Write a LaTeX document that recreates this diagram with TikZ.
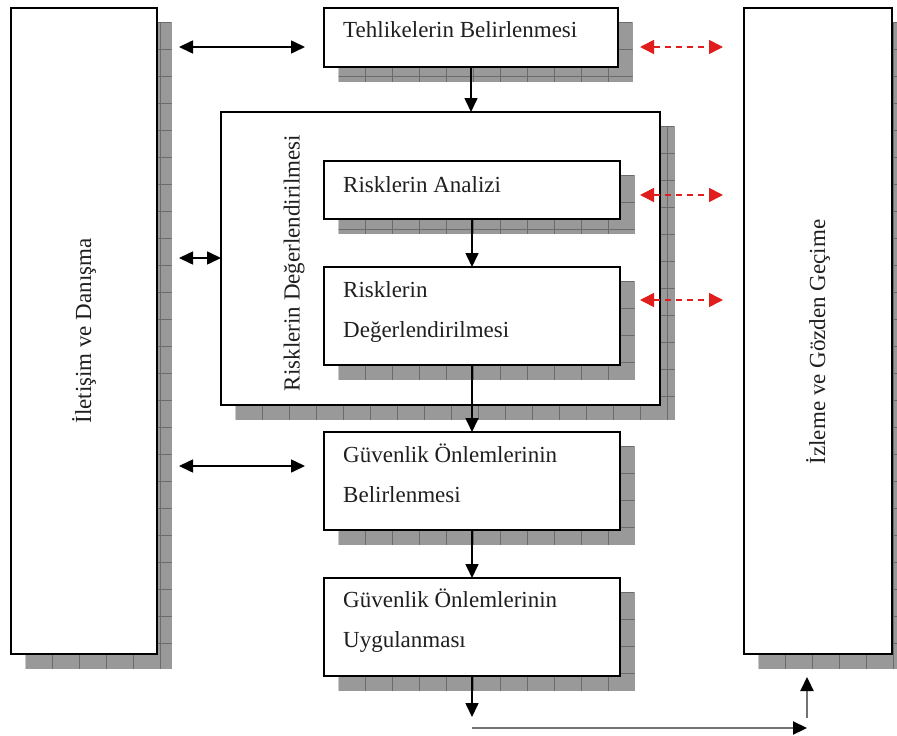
\documentclass[tikz,border=0pt]{standalone}
\usepackage{fontspec}
\setmainfont{Liberation Serif}
\usetikzlibrary{arrows.meta}

\definecolor{shfill}{gray}{0.60}
\definecolor{shline}{gray}{0.42}
\definecolor{dashred}{RGB}{225,30,30}
\definecolor{txt}{gray}{0.12}

\tikzset{
  boxnode/.style={draw=black, line width=1.5pt, fill=white, inner sep=0pt, outer sep=0pt},
  boxtext/.style={font=\fontsize{23}{28}\selectfont, text=txt, inner sep=0pt, anchor=base west},
  sidetext/.style={font=\fontsize{23}{28}\selectfont, text=txt, inner sep=0pt, rotate=90},
  conn/.style={line width=1.6pt, -{Triangle[length=14pt,width=13pt]}},
  dbl/.style={line width=1.6pt, {Triangle[length=14pt,width=13pt]}-{Triangle[length=14pt,width=13pt]}},
  reddbl/.style={line width=1.6pt, dashred, dash pattern=on 6pt off 5pt,
    {Triangle[length=14pt,width=14pt]}-{Triangle[length=14pt,width=14pt]}},
  grayconn/.style={line width=2.2pt, black!55, -{Triangle[length=14pt,width=13pt,color=black]}},
  shline/.style={draw=shline, line width=0.8pt}
}

% Box with a gridded drop shadow: name, x1, y1, x2, y2 (y grows downward)
\newcommand\shbox[5]{%
  \fill[shfill] ({#2+14.5},{#3+14.5}) rectangle ({#4+14.5},{#5+14.5});
  \begin{scope}
    \clip ({#2+14.5},{#3+14.5}) rectangle ({#4+14.5},{#5+14.5});
    \foreach \k in {0,...,33}{
      \draw[shline] ({#2+14.5+27*\k},{#3}) -- ++(0,720);
      \draw[shline] ({#2},{#3+14.5+27*\k}) -- ++(920,0);
    }
  \end{scope}
  \node[boxnode, minimum width={#4-#2}, minimum height={#5-#3}] (#1)
    at ({(#2+#4)/2},{(#3+#5)/2}) {};
}

\begin{document}
\begin{tikzpicture}[x=1pt, y=-1pt]
  \useasboundingbox (0,0) rectangle (897,736);
  \fill[white] (0,0) rectangle (897,736);

  % side columns
  \shbox{left}{11}{8}{157}{654}
  \shbox{right}{744}{8}{892}{654}
  \node[sidetext] (lefttext) at (84,331) {İletişim ve Danışma};
  \node[sidetext] (righttext) at (818,342) {İzleme ve Gözden Geçime};

  % process steps
  \shbox{tb}{324}{8}{618}{67}
  \node[boxtext] (tbtext) at (343,37) {Tehlikelerin Belirlenmesi};

  \shbox{rd}{221}{112}{660}{405}
  \node[sidetext] (rdtext) at (294,263) {Risklerin Değerlendirilmesi};

  \shbox{ra}{324}{161}{620}{219}
  \node[boxtext] (ratext) at (343,192) {Risklerin Analizi};

  \shbox{rdb}{324}{267}{620}{365}
  \node[boxtext] (rdbtexta) at (343,297) {Risklerin};
  \node[boxtext] (rdbtextb) at (343,337) {Değerlendirilmesi};

  \shbox{gb}{324}{432}{620}{530}
  \node[boxtext] (gbtexta) at (343,462) {Güvenlik Önlemlerinin};
  \node[boxtext] (gbtextb) at (343,502) {Belirlenmesi};

  \shbox{gu}{324}{578}{620}{676}
  \node[boxtext] (gutexta) at (343,607) {Güvenlik Önlemlerinin};
  \node[boxtext] (gutextb) at (343,647) {Uygulanması};

  % flow between steps
  \draw[conn] (tb.south) -- (tb.south |- rd.north);
  \draw[conn] (ra.south) -- (ra.south |- rdb.north);
  \draw[conn] (rdb.south) -- (rdb.south |- gb.north);
  \draw[conn] (gb.south) -- (gb.south |- gu.north);

  % output loop back to monitoring
  \coordinate (out1) at (472,717);
  \coordinate (out2) at (472,728);
  \coordinate (out3) at (807,728);
  \coordinate (up1) at (807,718);
  \coordinate (up2) at (807,677);
  \draw[conn] (gu.south -| out1) -- (out1);
  \draw[grayconn] (out2) -- (out3);
  \draw[grayconn] (up1) -- (up2);

  % communication links
  \coordinate (c1l) at (179,47);  \coordinate (c1r) at (305,47);
  \coordinate (c2l) at (179,258);
  \coordinate (c3l) at (179,466); \coordinate (c3r) at (305,466);
  \draw[dbl] (c1l) -- (c1r);
  \draw[dbl] (c2l) -- (rd.west |- c2l);
  \draw[dbl] (c3l) -- (c3r);

  % monitoring links
  \coordinate (m1l) at (640,47);  \coordinate (m1r) at (723,47);
  \coordinate (m2l) at (640,195); \coordinate (m2r) at (723,195);
  \coordinate (m3l) at (640,300); \coordinate (m3r) at (723,300);
  \draw[reddbl] (m1l) -- (m1r);
  \draw[reddbl] (m2l) -- (m2r);
  \draw[reddbl] (m3l) -- (m3r);
\end{tikzpicture}
\end{document}
